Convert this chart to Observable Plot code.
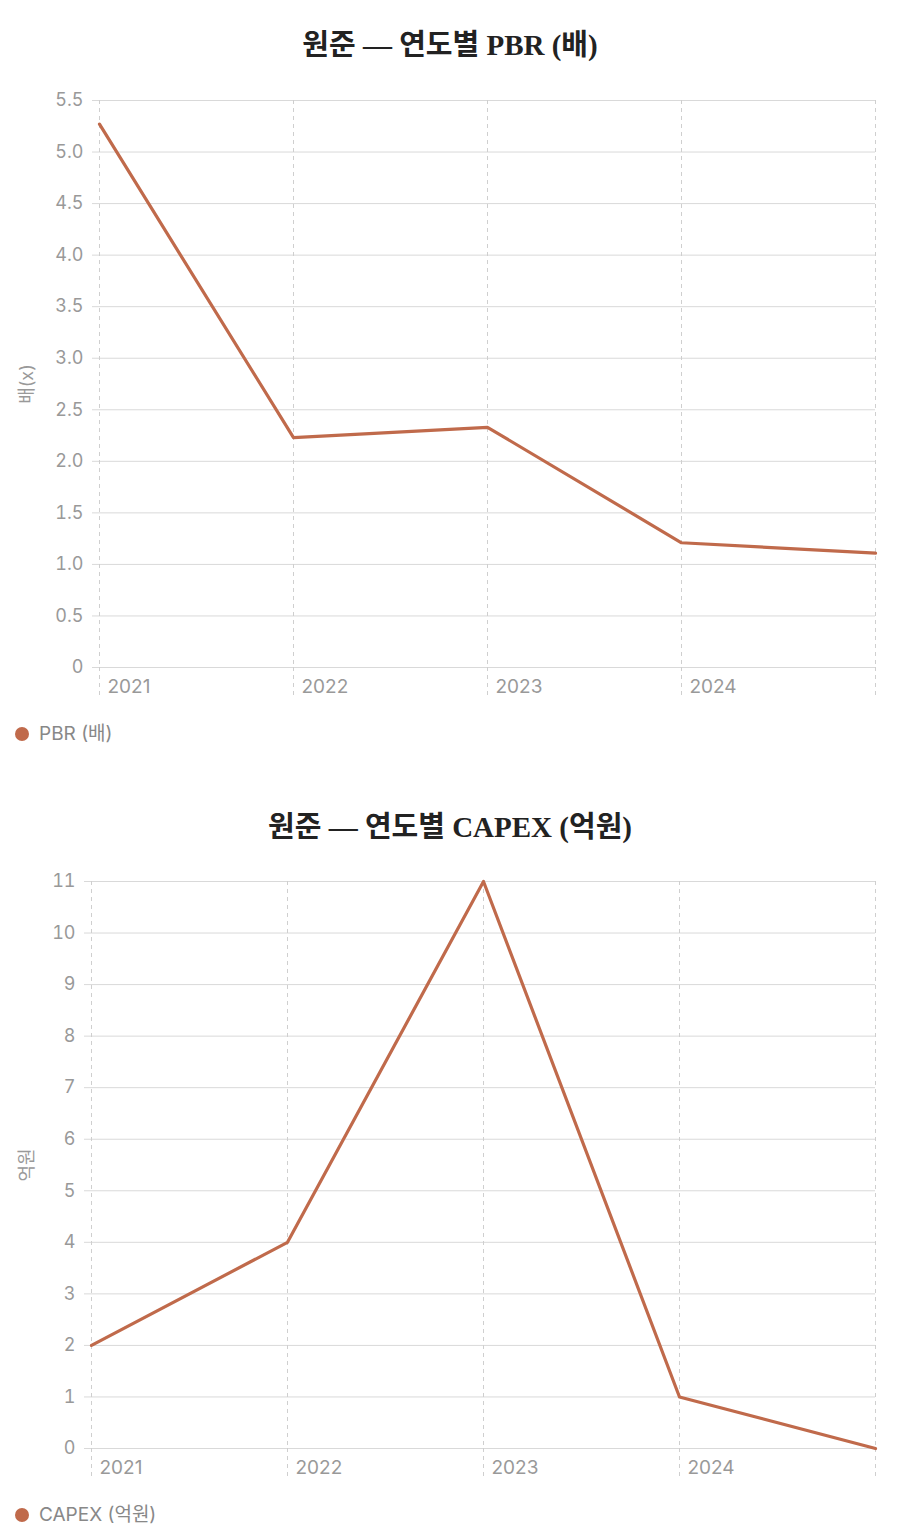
<!DOCTYPE html>
<html><head><meta charset="utf-8">
<script src="https://cdn.jsdelivr.net/npm/d3@7"></script>
<script src="https://cdn.jsdelivr.net/npm/@observablehq/plot@0.6"></script>
<style>
body{margin:0;background:#fff;width:900px;}
.title{font-family:"Liberation Serif","Noto Sans CJK KR",serif;font-weight:bold;font-size:29px;line-height:34px;text-align:center;color:#222;}
.legend{font-family:Inter,"Noto Sans CJK KR",sans-serif;font-size:19px;line-height:22px;color:#888;padding-left:15px;display:flex;align-items:center;}
.legend span.dot{display:inline-block;width:14px;height:14px;border-radius:50%;background:#c06a4b;margin-right:10px;}
svg{display:block;}
</style></head><body>
<div id="p1"></div>
<div id="p2"></div>
<script>
const years = ["2021","2022","2023","2024","2025"];
const yearLabels = ["2021","2022","2023","2024",""];
const pbr = [5.27, 2.23, 2.33, 1.21, 1.11];
const capex = [2, 4, 11, 1, 0];
const pbrTicks = [0,0.5,1,1.5,2,2.5,3,3.5,4,4.5,5,5.5];
const capexTicks = [0,1,2,3,4,5,6,7,8,9,10,11];
const lineColor = "#c06a4b";

function panel(el, {title, values, ticks, yMax, yLabel, legend, marginLeft, marginTop, padTop, tickFmt}) {
  const data = years.map((y,i)=>({year:y, v:values[i]}));
  const t = document.createElement("div");
  t.className = "title"; t.textContent = title; t.style.paddingTop = padTop + "px";
  el.appendChild(t);
  const chart = Plot.plot({
    width: 900, height: marginTop + 567 + 34,
    marginLeft, marginRight: 25, marginTop, marginBottom: 34,
    style: {fontFamily: 'Inter, "Noto Sans CJK KR", sans-serif', fontSize: "18px", color: "#999"},
    x: {type: "point", domain: years, padding: 0},
    y: {domain: [0, yMax]},
    marks: [
      Plot.gridY(ticks, {stroke: "#d9d9d9", strokeOpacity: 1, strokeWidth: 1}),
      Plot.gridX(years, {stroke: "#cfcfcf", strokeOpacity: 1, strokeDasharray: "4,4"}),
      Plot.axisX(years, {tickSize: 31, stroke: "#cfcfcf", strokeDasharray: "4,4", tickFormat: null, text: null, label: null}),
      Plot.axisX(years, {tickSize: 0, tickPadding: 12, tickFormat: (d)=>yearLabels[years.indexOf(d)], textAnchor: "start", dx: 8, fill: "#999", fontSize: 19, label: null}),
      Plot.axisY(ticks, {tickSize: 7, stroke: "#d9d9d9", tickPadding: 9, tickFormat: tickFmt, fill: "#999",
        label: yLabel, labelAnchor: "center", labelArrow: "none", labelOffset: marginLeft - 20}),
      Plot.line(data, {x: "year", y: "v", stroke: lineColor, strokeWidth: 3.2})
    ]
  });
  el.appendChild(chart);
  const lg = document.createElement("div");
  lg.className = "legend"; lg.style.paddingTop = "22px";
  lg.innerHTML = '<span class="dot"></span>';
  lg.appendChild(document.createTextNode(legend));
  el.appendChild(lg);
}

panel(document.getElementById("p1"), {title: "원준 — 연도별 PBR (배)", values: pbr, ticks: pbrTicks, yMax: 5.5,
  yLabel: "배(x)", legend: "PBR (배)", marginLeft: 99, marginTop: 38, padTop: 28, tickFmt: d => d === 0 ? "0" : d3.format(".1f")(d)});
document.getElementById("p2").style.marginTop = "65px";
panel(document.getElementById("p2"), {title: "원준 — 연도별 CAPEX (억원)", values: capex, ticks: capexTicks, yMax: 11,
  yLabel: "억원", legend: "CAPEX (억원)", marginLeft: 91, marginTop: 37, padTop: 0, tickFmt: d => String(d)});
</script>
</body></html>
